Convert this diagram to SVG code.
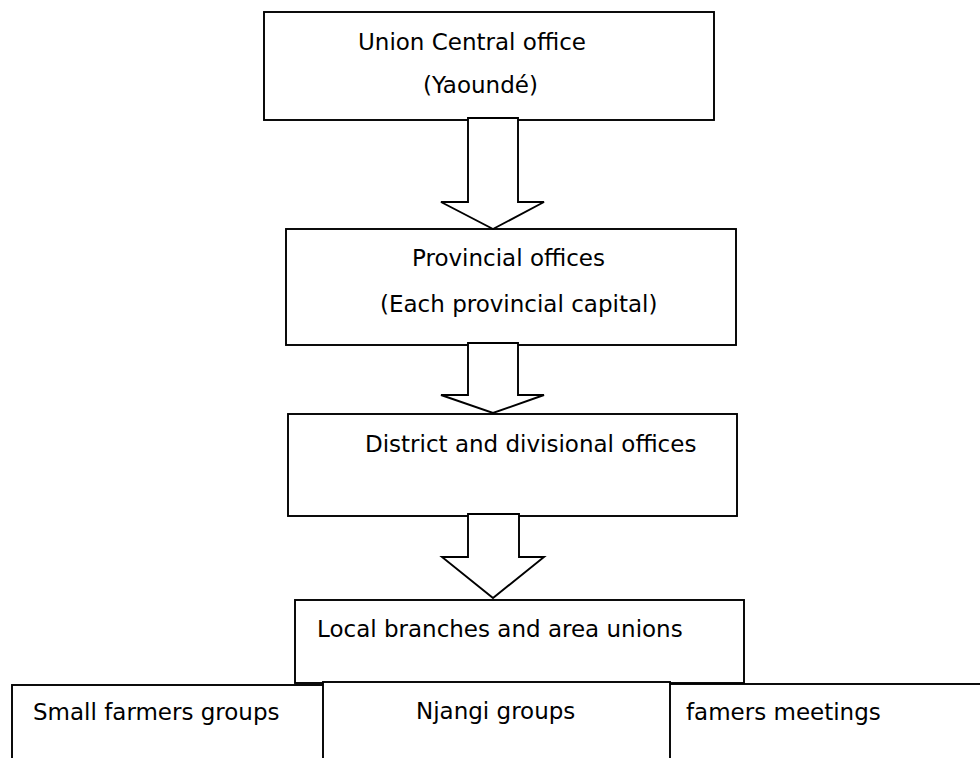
<svg xmlns="http://www.w3.org/2000/svg" width="980" height="758" viewBox="0 0 980 758">
<style>
.box{fill:#fff;stroke:#000;stroke-width:1.9}
.arr{fill:#fff;stroke:#000;stroke-width:1.9;stroke-linejoin:miter}
.t{font-family:"DejaVu Sans","Liberation Sans",sans-serif;font-size:23px;fill:#000}
</style>
<rect width="980" height="758" fill="#fff"/>
<g id="node-central">
<rect class="box" x="264" y="12" width="450" height="108"/>
<text class="t" x="358" y="50">Union Central office</text>
<text class="t" x="423" y="93">(Yaoundé)</text>
</g>
<g id="node-provincial">
<rect class="box" x="286" y="229" width="450" height="116"/>
<text class="t" x="412" y="266">Provincial offices</text>
<text class="t" x="380" y="312">(Each provincial capital)</text>
</g>
<g id="node-district">
<rect class="box" x="288" y="414" width="449" height="102"/>
<text class="t" x="365" y="452">District and divisional offices</text>
</g>
<g id="node-local">
<rect class="box" x="295" y="600" width="449" height="83"/>
<text class="t" x="317" y="637">Local branches and area unions</text>
</g>
<g id="node-small">
<rect class="box" x="12" y="685" width="330" height="90"/>
<text class="t" x="33" y="720">Small farmers groups</text>
</g>
<g id="node-famers">
<rect class="box" x="650" y="684" width="345" height="90"/>
<text class="t" x="686" y="720">famers meetings</text>
</g>
<g id="node-njangi">
<rect class="box" x="323" y="682" width="347" height="95"/>
<text class="t" x="416" y="719">Njangi groups</text>
</g>
<g id="connectors">
<polygon class="arr" points="468,118 518,118 518,202 544,202 493,229 441,202 468,202"/>
<polygon class="arr" points="468,343 518,343 518,395 544,395 493,413 441,395 468,395"/>
<polygon class="arr" points="468,514 519,514 519,557 544,557 493,598 442,557 468,557"/>
</g>
</svg>
